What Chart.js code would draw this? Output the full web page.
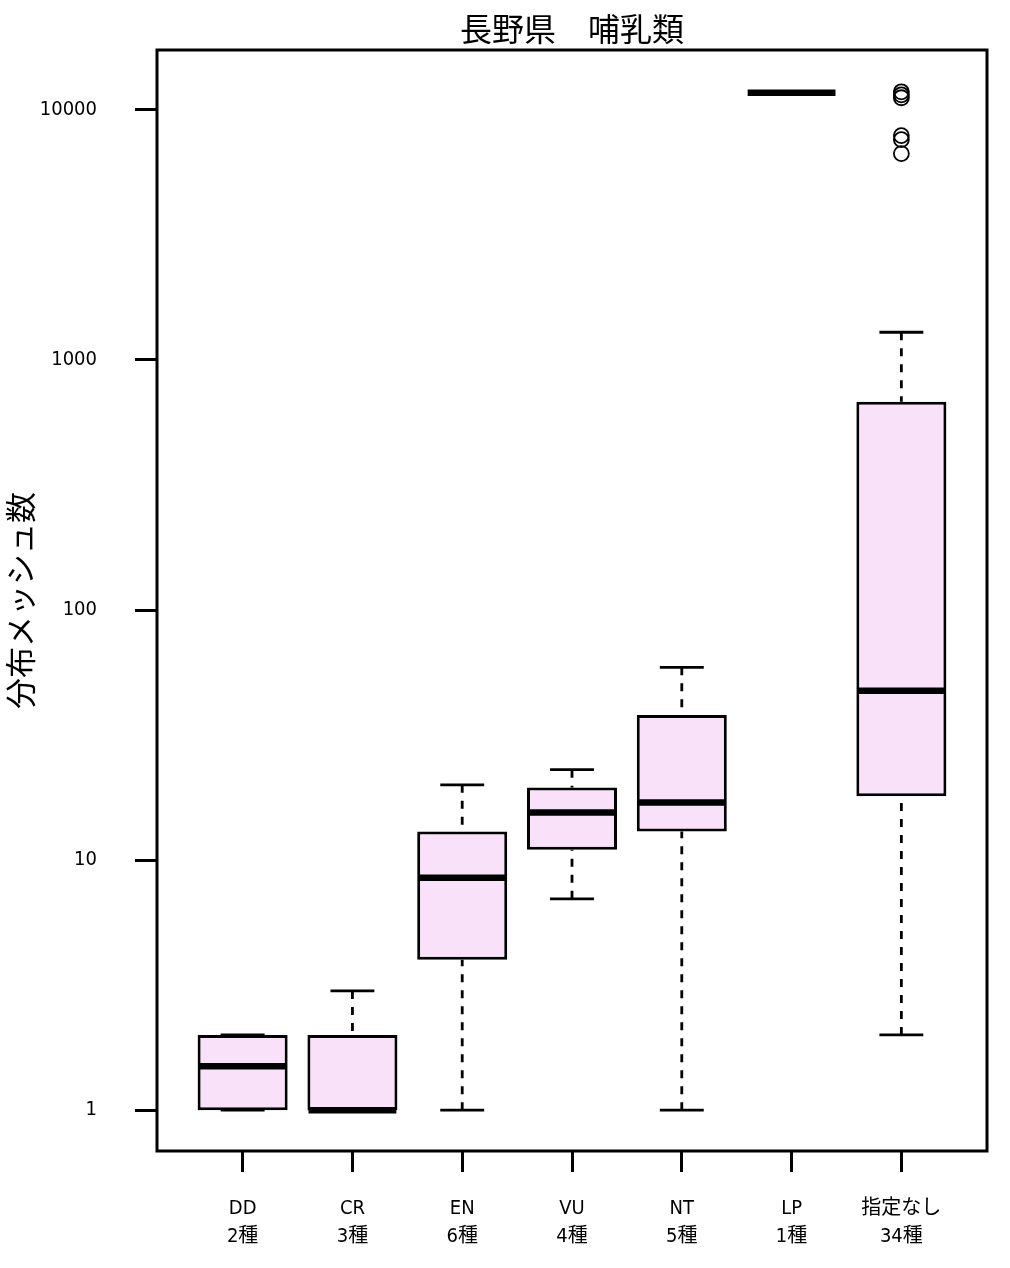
<!DOCTYPE html>
<html>
<head>
<meta charset="utf-8">
<script src="https://cdn.jsdelivr.net/npm/chart.js@4.4.0/dist/chart.umd.min.js"></script>
<style>
  body { margin: 0; background: #fff; }
  #wrap { width: 1010px; height: 1268px; }
</style>
</head>
<body>
<div id="wrap"><canvas id="grafico"></canvas></div>
<script>
// datos
const categorias = ['DD', 'CR', 'EN', 'VU', 'NT', 'LP', '指定なし'];
const numEspecies = [2, 3, 6, 4, 5, 1, 34];
const bigoteInf = [1, 1, 1, 7, 1, 11700, 2];
const cuartil1 = [1, 1, 4, 11, 13, 11700, 18];
const medianas = [1.5, 1, 8.5, 15.5, 17, 11700, 47.5];
const cuartil3 = [2, 2, 13, 19.5, 38, 11700, 680];
const bigoteSup = [2, 3, 20, 23, 59, 11700, 1290];
const atipicos = [[], [], [], [], [], [], [11800, 11480, 11170, 7880, 7600, 6680]];
const ticksY = [1, 10, 100, 1000, 10000];

const colorCaja = '#f9e1fa';
const fuenteEje = "'Liberation Sans Narrow', 'DejaVu Sans Condensed', 'Noto Sans CJK JP', sans-serif";
const fuenteCJK = "'Noto Sans CJK JP', sans-serif";

const cajas = categorias.map((c, i) => ({ x: i + 1, y: [cuartil1[i], cuartil3[i]] }));

const lineasMediana = [];
const lineasBigote = [];
const lineasTope = [];
const puntosAtipicos = [];

categorias.forEach((c, i) => {
    const x = i + 1;
    lineasMediana.push({ x: x - 0.4, y: medianas[i] }, { x: x + 0.4, y: medianas[i] }, { x: x + 0.45, y: null });
    if (bigoteSup[i] !== bigoteInf[i]) {
        // del extremo hacia la caja, como en R
        lineasBigote.push({ x: x, y: bigoteSup[i] }, { x: x, y: cuartil3[i] }, { x: x + 0.01, y: null });
        lineasBigote.push({ x: x, y: bigoteInf[i] }, { x: x, y: cuartil1[i] }, { x: x + 0.01, y: null });
        lineasTope.push({ x: x - 0.2, y: bigoteSup[i] }, { x: x + 0.2, y: bigoteSup[i] }, { x: x + 0.3, y: null });
        lineasTope.push({ x: x - 0.2, y: bigoteInf[i] }, { x: x + 0.2, y: bigoteInf[i] }, { x: x + 0.3, y: null });
    }
    atipicos[i].forEach(v => puntosAtipicos.push({ x: x, y: v }));
});

// marco completo alrededor del area del grafico
const marco = {
    id: 'marco',
    afterDraw(chart) {
        const { ctx, chartArea } = chart;
        ctx.save();
        ctx.strokeStyle = '#000';
        ctx.lineWidth = 3;
        ctx.strokeRect(chartArea.left, chartArea.top, chartArea.right - chartArea.left, chartArea.bottom - chartArea.top);
        ctx.restore();
    }
};

const ctx = document.getElementById('grafico').getContext('2d');
new Chart(ctx, {
    type: 'line',
    data: {
        datasets: [
            {
                type: 'bar',
                data: cajas,
                backgroundColor: colorCaja,
                borderColor: '#000',
                borderWidth: 3,
                borderSkipped: false,
                barPercentage: 0.82,
                categoryPercentage: 1,
                order: 4
            },
            {
                data: lineasBigote,
                borderColor: '#000',
                borderWidth: 2.8,
                borderDash: [8, 8],
                pointRadius: 0,
                order: 3
            },
            {
                data: lineasTope,
                borderColor: '#000',
                borderWidth: 2.8,
                pointRadius: 0,
                order: 2
            },
            {
                data: lineasMediana,
                borderColor: '#000',
                borderWidth: 6.5,
                borderCapStyle: 'butt',
                pointRadius: 0,
                order: 1
            },
            {
                data: puntosAtipicos,
                showLine: false,
                pointStyle: 'circle',
                pointRadius: 7.5,
                pointBorderWidth: 1.8,
                pointBorderColor: '#000',
                pointBackgroundColor: 'rgba(0,0,0,0)',
                order: 0
            }
        ]
    },
    options: {
        responsive: true,
        maintainAspectRatio: false,
        animation: false,
        layout: { padding: { left: 0, right: 23, top: 0, bottom: 0 } },
        plugins: {
            legend: { display: false },
            tooltip: { enabled: false },
            title: {
                display: true,
                text: '長野県　哺乳類',
                fullSize: false,
                color: '#000',
                font: { family: fuenteCJK, size: 32, weight: 'normal' },
                padding: { top: 3, bottom: 2 }
            }
        },
        scales: {
            x: {
                type: 'linear',
                min: 0.22,
                max: 7.78,
                offset: false,
                grid: { drawOnChartArea: false, offset: false, tickLength: 21, tickWidth: 3, lineWidth: 3, color: '#000' },
                border: { display: false },
                afterBuildTicks: scale => { scale.ticks = categorias.map((c, i) => ({ value: i + 1 })); },
                afterFit: scale => { scale.height = 117; },
                ticks: {
                    autoSkip: false,
                    maxRotation: 0,
                    padding: 23,
                    color: '#000',
                    font: { family: fuenteEje, size: 20, lineHeight: 1.4 },
                    callback: (v, i) => [categorias[i], numEspecies[i] + '種']
                }
            },
            y: {
                type: 'logarithmic',
                min: 0.687,
                max: 17340,
                grid: { drawOnChartArea: false, tickLength: 22, tickWidth: 3, lineWidth: 3, color: '#000' },
                border: { display: false },
                afterBuildTicks: scale => { scale.ticks = ticksY.map(v => ({ value: v })); },
                afterFit: scale => { scale.width = 157; },
                ticks: {
                    padding: 38,
                    color: '#000',
                    font: { family: fuenteEje, size: 20 },
                    callback: v => String(v)
                },
                title: {
                    display: true,
                    text: '分布メッシュ数',
                    color: '#000',
                    font: { family: fuenteCJK, size: 31 },
                    padding: { top: 2, bottom: 0 }
                }
            }
        }
    },
    plugins: [marco]
});
</script>
</body>
</html>
